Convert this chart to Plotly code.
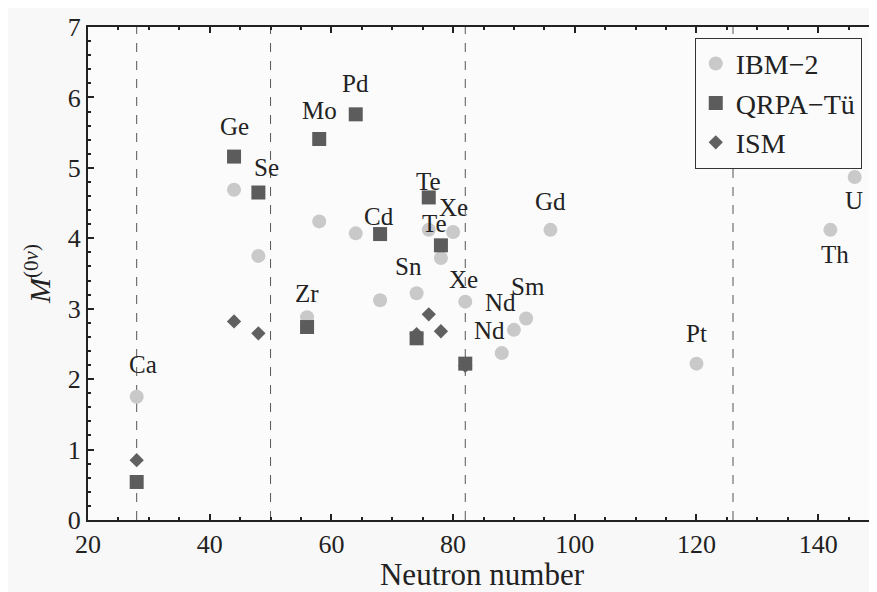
import plotly.graph_objects as go

# ---- data ----
ibm_n = [28, 44, 48, 56, 58, 64, 68, 74, 76, 78, 80, 82, 88, 90, 92, 96, 120, 142, 146]
ibm_m = [1.75, 4.69, 3.75, 2.88, 4.24, 4.07, 3.12, 3.22, 4.12, 3.72, 4.09, 3.10, 2.37, 2.70, 2.86, 4.12, 2.22, 4.12, 4.87]

qrpa_n = [28, 44, 48, 56, 58, 64, 68, 74, 76, 78, 82]
qrpa_m = [0.54, 5.16, 4.65, 2.74, 5.41, 5.76, 4.06, 2.58, 4.58, 3.90, 2.22]

ism_n = [28, 44, 48, 74, 76, 78, 82]
ism_m = [0.85, 2.82, 2.65, 2.64, 2.92, 2.68, 2.19]

magic_numbers = [28, 50, 82, 126]

x_ticks = [20, 40, 60, 80, 100, 120, 140]
y_ticks = [0, 1, 2, 3, 4, 5, 6, 7]

# labels: (text, series, index into that series)
labels = [
    ("Ca", "ibm", 0), ("Ge", "qrpa", 1), ("Se", "qrpa", 2), ("Zr", "ibm", 3),
    ("Mo", "qrpa", 4), ("Pd", "qrpa", 5), ("Cd", "qrpa", 6), ("Sn", "ibm", 7),
    ("Te", "qrpa", 8), ("Xe", "ibm", 10), ("Te", "qrpa", 9), ("Xe", "ibm", 11),
    ("Nd", "ibm", 13), ("Sm", "ibm", 14), ("Nd", "ibm", 12), ("Gd", "ibm", 15),
    ("Pt", "ibm", 16), ("Th", "ibm", 17), ("U", "ibm", 18),
]
# pixel offsets of each label from its point
label_offsets = [
    (6, 32), (0, 30), (8, 25), (0, 24), (0, 28), (0, 31), (-1, 18), (-8, 27),
    (0, 16), (0, 24), (-6, 22), (-2, 22), (-13, 27), (2, 32), (-12, 23), (0, 28),
    (0, 30), (5, -25), (-1, -23),
]

series = {"ibm": (ibm_n, ibm_m), "qrpa": (qrpa_n, qrpa_m), "ism": (ism_n, ism_m)}

FONT = "Liberation Serif"
INK = "#222222"

fig = go.Figure()
fig.add_trace(go.Scatter(
    x=ibm_n, y=ibm_m, mode="markers", name="IBM\u22122", legendrank=1,
    marker=dict(symbol="circle", size=14, color="#c9c9c9"),
))
fig.add_trace(go.Scatter(
    x=ism_n, y=ism_m, mode="markers", name="ISM", legendrank=3,
    marker=dict(symbol="diamond", size=11, color="#606060"),
))
fig.add_trace(go.Scatter(
    x=qrpa_n, y=qrpa_m, mode="markers", name="QRPA\u2212Tü", legendrank=2,
    marker=dict(symbol="square", size=14, color="#5c5c5c"),
))

for xv in magic_numbers:
    fig.add_shape(type="line", x0=xv, x1=xv, y0=0, y1=7, xref="x", yref="y",
                  line=dict(color="#555555", width=1, dash="dash"), layer="below")

for (txt, s, i), (dx, dy) in zip(labels, label_offsets):
    xs, ys = series[s]
    fig.add_annotation(x=xs[i], y=ys[i], text=txt, showarrow=False,
                       xshift=dx, yshift=dy,
                       font=dict(family=FONT, size=25, color=INK))

axis_common = dict(
    showline=True, linecolor=INK, linewidth=2, mirror="allticks",
    ticks="inside", tickcolor=INK, tickwidth=2, ticklen=6,
    showgrid=False, zeroline=False, automargin=False,
    tickfont=dict(family=FONT, size=26, color=INK),
)

fig.update_xaxes(range=[20, 149.5], tickvals=x_ticks, ticklabelstandoff=0,
                 minor=dict(ticks="inside", dtick=5, ticklen=3, tickcolor=INK, tickwidth=2),
                 title=dict(text="Neutron number", font=dict(family=FONT, size=31, color=INK),
                            standoff=2),
                 **axis_common)
fig.update_yaxes(range=[0, 7], tickvals=y_ticks, ticklabelstandoff=0,
                 minor=dict(ticks="inside", dtick=0.2, ticklen=3, tickcolor=INK, tickwidth=2),
                 title=dict(text="<i>M</i><sup>(0<i>ν</i>)</sup>",
                            font=dict(family=FONT, size=30, color=INK), standoff=8),
                 **axis_common)

# page body has an 8px margin, so the figure is sized to fill the rest of the window
fig.update_layout(
    width=869, height=584,
    margin=dict(l=80, r=1, t=19, b=72),
    paper_bgcolor="#f8f8f8", plot_bgcolor="#fbfbfb",
    showlegend=True,
    legend=dict(x=0.77, y=0.978, xanchor="left", yanchor="top",
                bgcolor="#fbfbfb", bordercolor="#333333", borderwidth=1,
                font=dict(family=FONT, size=28, color=INK),
                itemwidth=30, tracegroupgap=0),
    font=dict(family=FONT),
)

fig.write_html("out.html")
